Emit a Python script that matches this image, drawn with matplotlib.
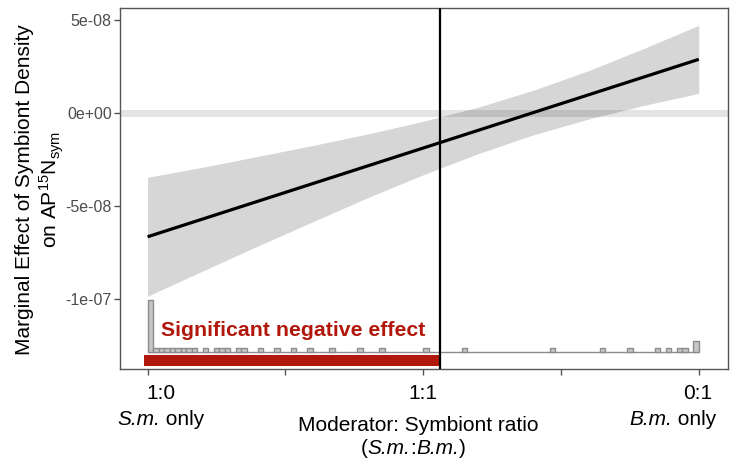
import numpy as np
import matplotlib
matplotlib.use("Agg")
import matplotlib.pyplot as plt

plt.rcParams["font.family"] = ["Liberation Sans", "DejaVu Sans"]
plt.rcParams["mathtext.fontset"] = "custom"
plt.rcParams["mathtext.rm"] = "Liberation Sans"
plt.rcParams["mathtext.it"] = "Liberation Sans:italic"

# marginal effect estimate (line) and 95% band, x = share of B.m. (0 = 1:0, 1 = 0:1)
est_x = [0.0, 1.0]
est_y = [-6.65e-08, 2.89e-08]
ci_x = [0.0, 0.1, 0.2, 0.3, 0.4, 0.5, 0.6, 0.7, 0.8, 0.9, 1.0]
ci_upper = [-3.45e-08, -2.91e-08, -2.33e-08, -1.74e-08, -1.12e-08, -0.44e-08,
            0.32e-08, 1.23e-08, 2.28e-08, 3.47e-08, 4.72e-08]
ci_lower = [-9.85e-08, -8.49e-08, -7.15e-08, -5.84e-08, -4.54e-08, -3.32e-08,
            -2.18e-08, -1.17e-08, -0.32e-08, 0.41e-08, 1.06e-08]

# Johnson-Neyman point
jn_x = 0.531

# moderator histogram (bins of width 0.01, only non-empty ones)
hist_bins = [0, 1, 2, 3, 4, 5, 6, 7, 8, 10, 12, 13, 14, 16, 17, 20, 23, 26, 29,
             33, 38, 42, 50, 57, 73, 82, 87, 92, 94, 96, 97, 99]
hist_counts = [14, 1, 1, 1, 1, 1, 1, 1, 1, 1, 1, 1, 1, 1, 1, 1, 1, 1, 1,
               1, 1, 1, 1, 1, 1, 1, 1, 1, 1, 1, 1, 3]
bin_width = 0.01

yticks = [5e-08, 0, -5e-08, -1e-07]
ytick_labels = ["5e-08", "0e+00", "-5e-08", "-1e-07"]

W, H = 738, 461
fig = plt.figure(figsize=(W / 100, H / 100), dpi=100)
ax = fig.add_axes([120 / W, 1 - 369 / H, 608 / W, 361 / H])

red = "#B2170B"

ax.axhline(0, color="#E4E4E4", lw=5, zorder=1)
ax.fill_between(ci_x, ci_lower, ci_upper, color="black", alpha=0.16, lw=0, zorder=2)
ax.plot(est_x, est_y, color="black", lw=2.3, zorder=4, solid_capstyle="butt")
ax.axvline(jn_x, color="black", lw=1.6, zorder=5)

# histogram
hist_base = -1.285e-07
unit = 2.0e-09
ax.hlines(hist_base, 0, 1, color="#8C8C8C", lw=1, zorder=3)
ax.bar(np.array(hist_bins) * bin_width, np.array(hist_counts) * unit, width=bin_width,
       bottom=hist_base, align="edge", color="#C6C6C6", edgecolor="#8C8C8C", lw=1, zorder=3)

# significance region
ax.fill_between([-0.007, jn_x], -1.301e-07, -1.360e-07, color=red, lw=0, zorder=3)
ax.text(0.265, -1.2e-07, "Significant negative effect", color=red, fontsize=15.3,
        fontweight="bold", ha="center", va="baseline", zorder=6)

ax.set_xlim(-0.05, 1.053)
ax.set_ylim(-1.376e-07, 5.65e-08)
ax.set_yticks(yticks, ytick_labels)
ax.set_xticks([0, 0.25, 0.5, 0.75, 1.0], ["", "", "", "", ""])
ax.tick_params(axis="both", color="#555555", length=4, width=1)
ax.tick_params(axis="y", labelsize=11.5, labelcolor="#4D4D4D", pad=2)
for s in ax.spines.values():
    s.set_color("#555555")
    s.set_linewidth(1)


def fx(px):
    return px / W


def fy(py):
    return 1 - py / H


fs = 15
renderer = fig.canvas.get_renderer()


def mixed_text(px, py, parts, ha="center"):
    # parts: list of (string, italic?) drawn side by side on one baseline
    objs = [fig.text(0, fy(py), s, fontsize=fs, style="italic" if it else "normal",
                     va="baseline") for s, it in parts]
    widths = [o.get_window_extent(renderer).width for o in objs]
    total = sum(widths)
    x = px - total / 2 if ha == "center" else px - total
    for o, w in zip(objs, widths):
        o.set_x(fx(x))
        x += w


fig.text(fx(161), fy(399), "1:0", fontsize=fs, ha="center", va="baseline")
mixed_text(161, 425, [("S.m.", True), (" only", False)])
fig.text(fx(423), fy(399), "1:1", fontsize=fs, ha="center", va="baseline")
fig.text(fx(698), fy(399), "0:1", fontsize=fs, ha="center", va="baseline")
mixed_text(716, 425, [("B.m.", True), (" only", False)], ha="right")
fig.text(fx(418), fy(431), "Moderator: Symbiont ratio", fontsize=fs, ha="center", va="baseline")
mixed_text(413, 454, [("(", False), ("S.m.", True), (":", False), ("B.m.", True), (")", False)])

fig.text(fx(25), fy(190), "Marginal Effect of Symbiont Density", fontsize=fs,
         rotation=90, ha="center", va="center")
fig.text(fx(52), fy(190), r"on AP$^{15}$N$_{\mathrm{sym}}$", fontsize=fs,
         rotation=90, ha="center", va="center")

fig.savefig("out.png", dpi=100)
